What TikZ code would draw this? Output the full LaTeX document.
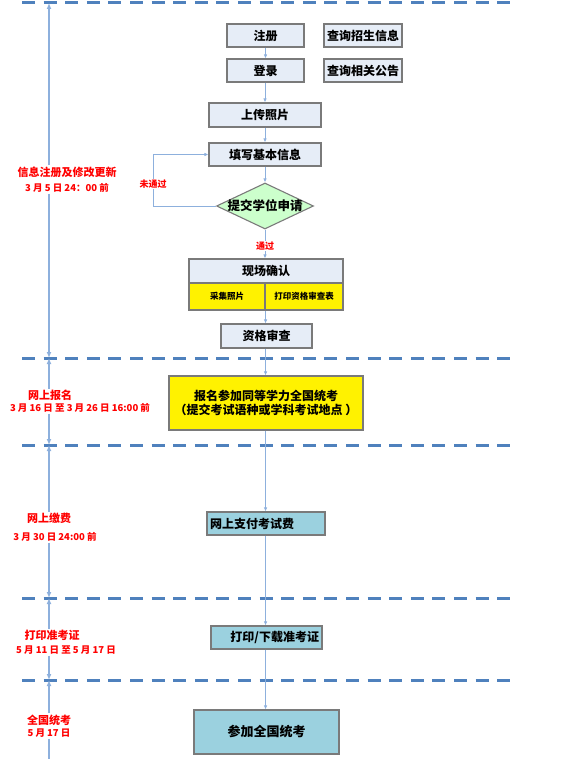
\documentclass[tikz,border=0pt]{standalone}
\usepackage{fontspec}
\setmainfont{Noto Sans CJK SC}
\usetikzlibrary{shapes.geometric,arrows.meta}
\definecolor{boxfill}{HTML}{E6EDF7}
\definecolor{boxline}{HTML}{7A7A7A}
\definecolor{flowc}{HTML}{8DB0DD}
\definecolor{dashblue}{HTML}{4F81BD}
\definecolor{diafill}{HTML}{CCFFCC}
\definecolor{tealbox}{HTML}{9BD1DF}
\definecolor{labred}{HTML}{FF0000}
\begin{document}
\begin{tikzpicture}[x=1pt,y=-1pt,
  box/.style={draw=boxline,line width=1.1pt,fill=boxfill,inner sep=0pt,font=\bfseries\fontsize{12}{14}\selectfont},
  ybox/.style={box,fill=yellow},
  tbox/.style={box,fill=tealbox},
  flow/.style={draw=flowc,line width=0.8pt,-{Latex[length=4pt,width=3.5pt]}},
  tline/.style={draw=flowc,line width=1.2pt},
  tarrow/.style={tline,-{Latex[length=6pt,width=5pt]}},
  dashline/.style={draw=dashblue,line width=3pt,dash pattern=on 13pt off 8.6pt},
  labA/.style={text=labred,font=\bfseries\fontsize{11}{12}\selectfont,inner sep=1pt},
  labB/.style={text=labred,font=\bfseries\fontsize{9.5}{11}\selectfont,inner sep=1pt},
  flab/.style={text=labred,font=\bfseries\fontsize{9}{10}\selectfont,fill=white,inner sep=1pt}
]
\useasboundingbox (0,0) rectangle (573,759);

% dashed separators
\foreach \yy in {3,358,445,598,680}{\draw[dashline] (22,\yy) -- (511,\yy);}

% flow boxes
\node[box,minimum width=77pt,minimum height=23pt] (zc) at (265.5,35.5) {注册};
\node[box,minimum width=78pt,minimum height=23pt] (cx1) at (363,35.5) {查询招生信息};
\node[box,minimum width=77pt,minimum height=23pt] (dl) at (265.5,70.5) {登录};
\node[box,minimum width=78pt,minimum height=23pt] (cx2) at (363,70.5) {查询相关公告};
\node[box,minimum width=112pt,minimum height=24pt] (sc) at (265,115) {上传照片};
\node[box,minimum width=112pt,minimum height=23pt] (tx) at (265,154.5) {填写基本信息};
\node[diamond,draw=boxline,line width=1.1pt,fill=diafill,minimum width=97pt,minimum height=46pt,inner sep=0pt] (dia) at (265,206) {};
\node[font=\bfseries\fontsize{12.5}{14}\selectfont,inner sep=0pt] (diat) at (dia.center) {提交学位申请};
\node[box,minimum width=154pt,minimum height=24pt] (xc) at (266,271) {现场确认};
\node[ybox,minimum width=76pt,minimum height=27pt,font=\bfseries\fontsize{8.5}{10}\selectfont] (xc1) at (227,296.5) {采集照片};
\node[ybox,minimum width=78pt,minimum height=27pt,font=\bfseries\fontsize{8.5}{10}\selectfont] (xc2) at (304,296.5) {打印资格审查表};
\node[box,minimum width=91pt,minimum height=24pt] (zg) at (266.5,336) {资格审查};
\node[ybox,minimum width=194pt,minimum height=54pt,align=center] (bm) at (266,403) {报名参加同等学力全国统考\\（提交考试语种或学科考试地点 ）};
\node[tbox,minimum width=118pt,minimum height=23pt,text width=112pt,align=left,inner xsep=3pt] (zf) at (266,523.5) {网上支付考试费};
\node[tbox,minimum width=111pt,minimum height=23pt,text width=105pt,align=right,inner xsep=3pt] (dy) at (266.5,637.5) {打印/下载准考证};
\node[tbox,minimum width=145pt,minimum height=44pt,font=\bfseries\fontsize{13}{15}\selectfont] (ck) at (266.5,732) {参加全国统考};

% flow connectors
\draw[flow] (zc) -- (dl);
\draw[flow] (dl.south -| sc.north) -- (sc.north);
\draw[flow] (sc) -- (tx);
\draw[flow] (tx) -- (dia.north);
\draw[flow] (dia.south) -- (dia.south |- xc.north);
\draw[flow] (dia.west) -- ++(-63,0) |- (tx.west);
\draw[flow] (xc1.south east) -- (xc1.south east |- zg.north);
\draw[flow] (zg.south -| xc1.south east) -- (xc1.south east |- bm.north);
\draw[flow] (bm.south -| xc1.south east) -- (xc1.south east |- zf.north);
\draw[flow] (zf.south -| xc1.south east) -- (xc1.south east |- dy.north);
\draw[flow] (dy.south -| xc1.south east) -- (xc1.south east |- ck.north);
\node[flab] (wtg) at (153,184) {未通过};
\node[flab] (tg) at (265,246) {通过};

% timeline labels
\node[labA] (l1a) at (67,172) {信息注册及修改更新};
\node[labB] (l1b) at (67,188) {3 月 5 日 24：00 前};
\node[labA] (l2a) at (50,395) {网上报名};
\node[labB] (l2b) at (80,408) {3 月 16 日 至 3 月 26 日 16:00 前};
\node[labA] (l3a) at (49,518) {网上缴费};
\node[labB] (l3b) at (55,537) {3 月 30 日 24:00 前};
\node[labA] (l4a) at (52,635) {打印准考证};
\node[labB] (l4b) at (66,650) {5 月 11 日 至 5 月 17 日};
\node[labA] (l5a) at (49,720) {全国统考};
\node[labB] (l5b) at (49,733) {5 月 17 日};

% timeline
\coordinate (t0) at (49,3);
\coordinate (t1) at (49,358);
\coordinate (t2) at (49,445);
\coordinate (t3) at (49,598);
\coordinate (t4) at (49,680);
\coordinate (t5) at (49,759);
\draw[tarrow] (l1a.north -| t0) -- (t0);
\draw[tarrow] (l1b.south -| t0) -- (t1);
\draw[tarrow] (l2a.north -| t0) -- (t1);
\draw[tarrow] (l2b.south -| t0) -- (t2);
\draw[tarrow] (l3a.north -| t0) -- (t2);
\draw[tarrow] (l3b.south -| t0) -- (t3);
\draw[tarrow] (l4a.north -| t0) -- (t3);
\draw[tarrow] (l4b.south -| t0) -- (t4);
\draw[tarrow] (l5a.north -| t0) -- (t4);
\draw[tline] (l5b.south -| t0) -- (t5);
\end{tikzpicture}
\end{document}
